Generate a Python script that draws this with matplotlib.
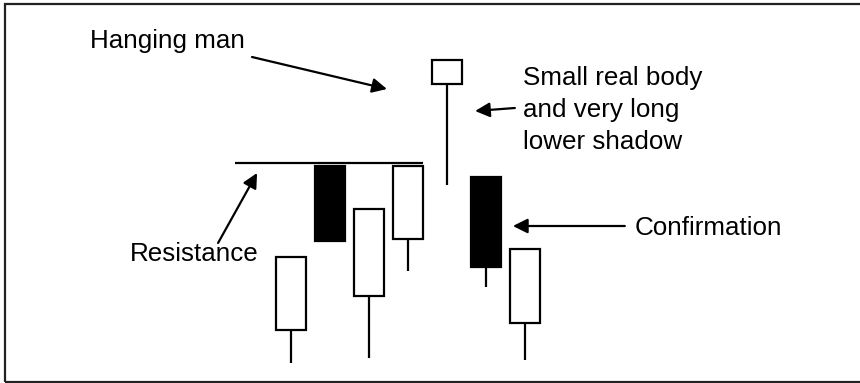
import numpy as np
import matplotlib.pyplot as plt
from matplotlib.patches import Rectangle

# candle data (index, open, close, high, low), price units
idx = [0, 1, 2, 3, 4, 5, 6]
opens = [5.3, 21.7, 8.7, 14.4, 29.9, 20.6, 6.0]
closes = [12.6, 14.2, 17.4, 21.7, 32.3, 11.6, 13.4]
highs = [12.6, 21.7, 17.4, 21.7, 32.3, 20.6, 13.4]
lows = [2.0, 14.2, 2.5, 11.2, 19.8, 9.6, 2.3]
resistance = 22.0
res_from, res_to = -1.44, 3.38

plt.rcParams['font.family'] = ['Liberation Sans', 'DejaVu Sans']

fig = plt.figure(figsize=(8.6, 3.83), dpi=100)
ax = fig.add_axes([0, 0, 1, 1])
ax.set_xlim(-291 / 39, (860 - 291) / 39)
ax.set_ylim(0, 38.3)
ax.axis('off')

x = np.array(idx)
o = np.array(opens)
c = np.array(closes)
ax.vlines(x, lows, highs, color='black', lw=1.6, zorder=1)
up = c >= o
colors = ['white' if u else 'black' for u in up]
ax.bar(x, np.abs(c - o), bottom=np.minimum(o, c), width=0.76,
       facecolor=colors, edgecolor='black', lw=1.6, zorder=2)

ax.hlines(resistance, res_from, res_to, color='black', lw=1.6)

arrow = dict(arrowstyle='-|>', color='black', lw=1.6, mutation_scale=22,
             shrinkA=0, shrinkB=0)
fs = 18.7
ax.text(-5.15, 34.2, 'Hanging man', fontsize=fs, va='center', ha='left')
ax.annotate('', xy=(2.46, 29.4), xytext=(-1.0, 32.6), arrowprops=arrow)

ax.text(5.94, 27.3, 'Small real body\nand very long\nlower shadow', fontsize=fs,
        va='center', ha='left', linespacing=1.42)
ax.annotate('', xy=(4.72, 27.2), xytext=(5.74, 27.5), arrowprops=arrow)

ax.text(8.82, 15.5, 'Confirmation', fontsize=fs, va='center', ha='left')
ax.annotate('', xy=(5.69, 15.7), xytext=(8.56, 15.7), arrowprops=arrow)

ax.text(-4.13, 12.9, 'Resistance', fontsize=fs, va='center', ha='left')
ax.annotate('', xy=(-0.87, 21.0), xytext=(-1.87, 14.0), arrowprops=arrow)

# outer frame
fig.patches.append(Rectangle((5 / 860, 1 / 383), 1.0, 378 / 383, fill=False,
                             lw=1.6, edgecolor='#222222',
                             transform=fig.transFigure, figure=fig))

fig.savefig('out.png', dpi=100)
